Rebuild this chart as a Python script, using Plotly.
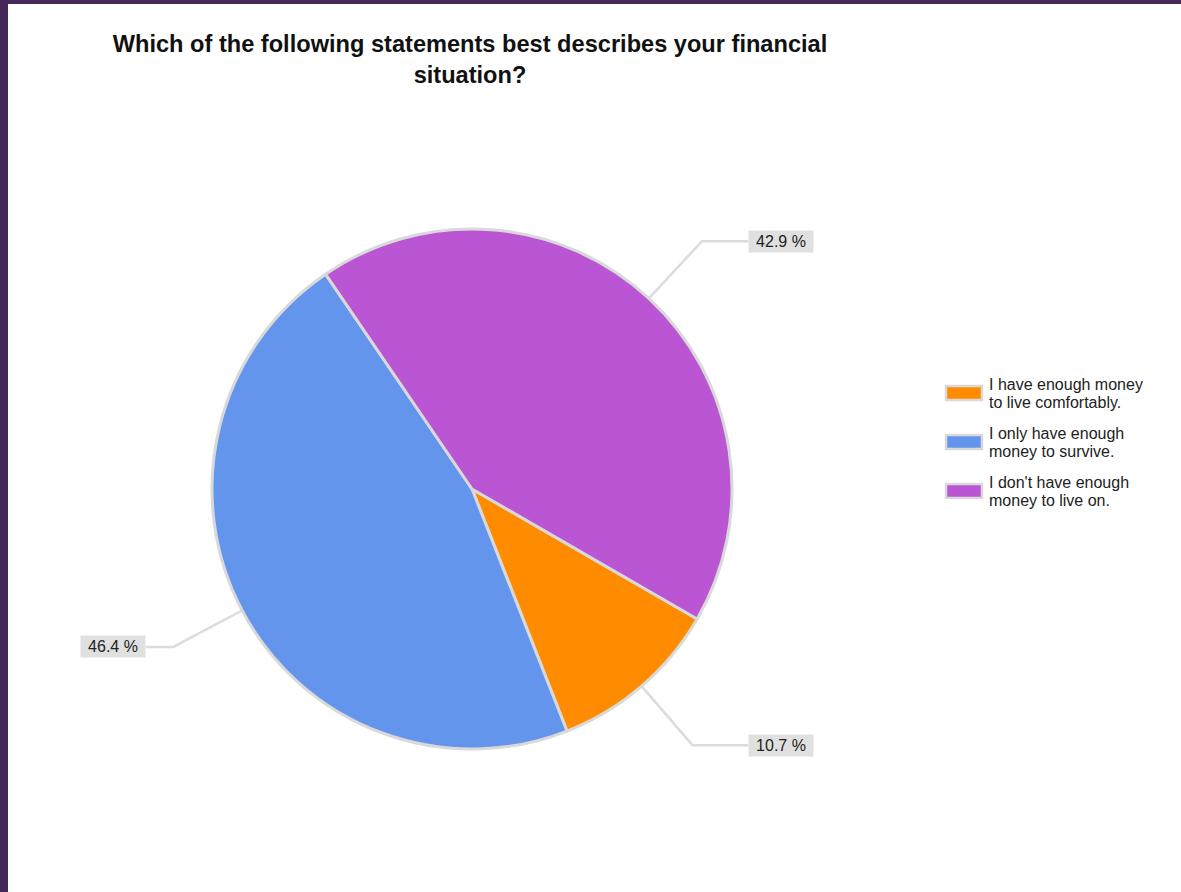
import math
import plotly.graph_objects as go

# Survey answers (counts of respondents)
labels = [
    "I have enough money to live comfortably.",
    "I only have enough money to survive.",
    "I don't have enough money to live on.",
]
legend_lines = [
    ["I have enough money", "to live comfortably."],
    ["I only have enough", "money to survive."],
    ["I don't have enough", "money to live on."],
]
counts = [3, 13, 12]
colors = ["#ff8c00", "#6495ed", "#ba55d3"]

title_text = "Which of the following statements best describes your financial<br>situation?"

W, H = 1181, 892
FONT = "Liberation Sans, Arial, sans-serif"

# Pie geometry in pixels
cx, cy, r = 472, 489, 260
start_deg = 120  # first slice starts here, clockwise from 12 o'clock

fig = go.Figure()

fig.add_trace(go.Pie(
    labels=labels,
    values=counts,
    sort=False,
    direction="clockwise",
    rotation=start_deg,
    marker=dict(colors=colors, line=dict(color="#d9d9d9", width=3)),
    textinfo="none",
    hoverinfo="label+percent",
    showlegend=False,
    domain=dict(x=[(cx - r) / W, (cx + r) / W], y=[1 - (cy + r) / H, 1 - (cy - r) / H]),
))

# Leader lines and percentage boxes, computed from the slice mid-angles
total = sum(counts)
acc = 0
annotations = []
for v in counts:
    frac = v / total
    mid = math.radians(start_deg + 360 * (acc + frac / 2))
    acc += frac
    sx, sy = math.sin(mid), -math.cos(mid)
    p0 = (cx + r * sx, cy + r * sy)
    p1 = (cx + 1.3 * r * sx, cy + 1.3 * r * sy)
    right = sx >= 0
    box_edge = 748 if right else 146
    fig.add_trace(go.Scatter(
        x=[p0[0], p1[0], box_edge], y=[p0[1], p1[1], p1[1]],
        mode="lines", line=dict(color="#dcdcdc", width=2.5),
        hoverinfo="skip", showlegend=False, xaxis="x", yaxis="y",
    ))
    annotations.append(dict(
        x=box_edge, y=p1[1], xref="x", yref="y",
        xanchor="left" if right else "right", yanchor="middle",
        text=f"{frac * 100:.1f} %", showarrow=False,
        font=dict(family=FONT, size=16, color="#222222"),
        bgcolor="#e0e0e0", width=64, height=21, borderpad=0, align="center",
    ))

# Legend drawn as swatches with two-line captions
shapes = []
leg_x0, leg_y0, leg_step = 946, 393, 49
for i, (lines, col) in enumerate(zip(legend_lines, colors)):
    yc = leg_y0 + i * leg_step
    shapes.append(dict(type="rect", xref="x", yref="y",
                       x0=leg_x0, x1=leg_x0 + 36, y0=yc - 7, y1=yc + 7,
                       fillcolor=col, line=dict(color="#d9d9d9", width=2.5)))
    for j, line in enumerate(lines):
        annotations.append(dict(
            x=leg_x0 + 41, y=yc - 9 + 18 * j, xref="x", yref="y",
            xanchor="left", yanchor="middle", text=line, showarrow=False,
            font=dict(family=FONT, size=16, color="#222222"),
        ))

# Window frame edges
shapes.append(dict(type="rect", xref="paper", yref="paper", x0=0, x1=8 / W, y0=0, y1=1,
                   fillcolor="#45285a", line=dict(width=0), layer="above"))
shapes.append(dict(type="rect", xref="paper", yref="paper", x0=0, x1=1, y0=1 - 4 / H, y1=1,
                   fillcolor="#45285a", line=dict(width=0), layer="above"))

fig.update_layout(
    width=W, height=H,
    margin=dict(l=0, r=0, t=0, b=0),
    paper_bgcolor="white", plot_bgcolor="rgba(0,0,0,0)",
    title=dict(text=title_text, x=470 / W, xanchor="center", y=1 - 52 / H, yanchor="top",
               font=dict(family=FONT, size=23.6, color="#111111", weight="bold")),
    xaxis=dict(range=[0, W], domain=[0, 1], visible=False, fixedrange=True),
    yaxis=dict(range=[H, 0], domain=[0, 1], visible=False, fixedrange=True),
    shapes=shapes,
    annotations=annotations,
    showlegend=False,
)

fig.write_html("out.html")
